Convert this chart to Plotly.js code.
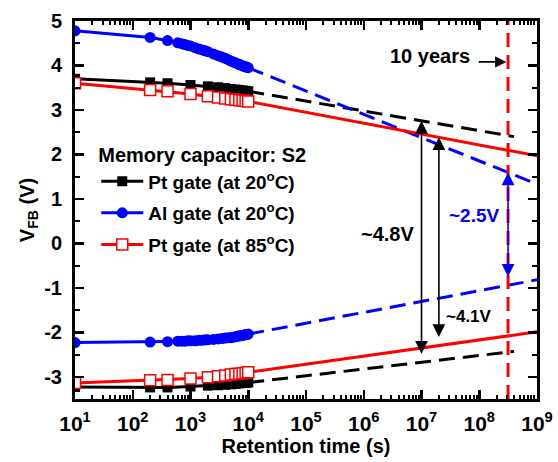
<!DOCTYPE html>
<html><head><meta charset="utf-8">
<script src="https://cdn.plot.ly/plotly-3.0.1.min.js"></script>
<style>html,body{margin:0;padding:0;background:#fff}#chart{width:558px;height:462px}</style>
</head><body><div id="chart"></div>
<script>
// ---- data ----
const ptTimes = [10, 200, 400, 1000, 2000, 3000, 4000, 5000, 6000, 7000, 8000, 9000, 10000];
const pt20Upper = [3.70, 3.62, 3.60, 3.56, 3.53, 3.51, 3.49, 3.47, 3.46, 3.45, 3.44, 3.43, 3.42];
const pt20Lower = [-3.23, -3.24, -3.24, -3.22, -3.20, -3.19, -3.18, -3.17, -3.16, -3.15, -3.14, -3.14, -3.13];
const pt85Upper = [3.60, 3.45, 3.42, 3.36, 3.31, 3.28, 3.26, 3.24, 3.23, 3.22, 3.21, 3.20, 3.19];
const pt85Lower = [-3.14, -3.08, -3.07, -3.04, -3.01, -2.99, -2.97, -2.95, -2.94, -2.93, -2.92, -2.91, -2.90];
const alTimes = [10, 200, 400, 600, 700, 800, 900, 1000, 1200, 1400, 1600, 1800, 2000, 2500, 3000, 3500, 4000, 4500, 5000, 5500, 6000, 6500, 7000, 7500, 8000, 8500, 9000, 9500, 10000];
const al20Upper = [4.78, 4.63, 4.56, 4.51, 4.49, 4.47, 4.45, 4.44, 4.40, 4.37, 4.35, 4.33, 4.31, 4.26, 4.22, 4.19, 4.16, 4.13, 4.10, 4.08, 4.06, 4.04, 4.02, 4.01, 3.99, 3.98, 3.97, 3.96, 3.95];
const al20Lower = [-2.23, -2.22, -2.21, -2.20, -2.20, -2.20, -2.19, -2.19, -2.19, -2.18, -2.18, -2.17, -2.17, -2.16, -2.15, -2.14, -2.13, -2.12, -2.12, -2.11, -2.10, -2.09, -2.08, -2.08, -2.07, -2.06, -2.05, -2.05, -2.04];
// extrapolations
const ptExtTimes = [1e4, 4e8];
const pt20UpperExt = [3.42, 2.40];
const pt20LowerExt = [-3.13, -2.43];
const extTimes = [1e4, 1e9];
const al20UpperExt = [3.95, 1.33];
const al20LowerExt = [-2.04, -0.82];
const pt85UpperExt = [3.19, 1.97];
const pt85LowerExt = [-2.90, -1.99];
const tenYears = 3.1536e8;
const tenYearsY = [-3.5, 5];
// ticks
const xTickVals = [1e1, 1e2, 1e3, 1e4, 1e5, 1e6, 1e7, 1e8, 1e9];
const xTickText = ['10<sup>1</sup>','10<sup>2</sup>','10<sup>3</sup>','10<sup>4</sup>','10<sup>5</sup>','10<sup>6</sup>','10<sup>7</sup>','10<sup>8</sup>','10<sup>9</sup>'];
const yTickVals = [-3, -2, -1, 0, 1, 2, 3, 4, 5];
const yTickText = ['-3', '-2', '-1', '0', '1', '2', '3', '4', '5'];
const legendNames = ['<b>Pt gate (at 20<sup>o</sup>C)</b>', '<b>Al gate (at 20<sup>o</sup>C)</b>', '<b>Pt gate (at 85<sup>o</sup>C)</b>'];

// ---- helpers ----
const FONT = 'Liberation Sans, Arial, Helvetica, sans-serif';
function at(xs, ys, t) { // linear interpolation in log10(x)
  const a = Math.log10(xs[0]), b = Math.log10(xs[1]), u = (Math.log10(t) - a) / (b - a);
  return ys[0] + u * (ys[1] - ys[0]);
}
const minorX = [];
for (let d = 1; d < 9; d++) for (let k = 2; k <= 9; k++) minorX.push(k * Math.pow(10, d));

const BLACK = '#000000', BLUE = '#0000ff', RED = '#ff0000';
const traces = [];
function ext(x, y, color, dash) {
  traces.push({x: x, y: y, mode: 'lines', line: {color: color, width: 3, dash: dash}, showlegend: false, hoverinfo: 'skip'});
}
ext(ptExtTimes, pt20UpperExt, BLACK, '16px,8px');
ext(ptExtTimes, pt20LowerExt, BLACK, '16px,8px');
ext(extTimes, al20UpperExt, BLUE, '16px,8px');
ext(extTimes, al20LowerExt, BLUE, '16px,8px');
ext(extTimes, pt85UpperExt, RED, 'solid');
ext(extTimes, pt85LowerExt, RED, 'solid');

function data(x, y, name, color, marker, show, grp) {
  traces.push({x: x, y: y, name: name, mode: 'lines+markers', legendgroup: grp, showlegend: show,
    line: {color: color, width: 3}, marker: marker, hoverinfo: 'skip'});
}
const mBlack = {symbol: 'square', size: 10, color: BLACK};
const mBlue = {symbol: 'circle', size: 11, color: BLUE};
const mRed = {symbol: 'square', size: 11, color: '#ffffff', line: {color: RED, width: 1.5}};
data(ptTimes, pt20Upper, legendNames[0], BLACK, mBlack, true, 'a');
data(ptTimes, pt20Lower, legendNames[0], BLACK, mBlack, false, 'a');
data(alTimes, al20Upper, legendNames[1], BLUE, mBlue, true, 'b');
data(alTimes, al20Lower, legendNames[1], BLUE, mBlue, false, 'b');
data(ptTimes, pt85Upper, legendNames[2], RED, mRed, true, 'c');
data(ptTimes, pt85Lower, legendNames[2], RED, mRed, false, 'c');

traces.push({x: [tenYears, tenYears], y: tenYearsY, mode: 'lines', line: {color: RED, width: 3, dash: '14px,8px'}, showlegend: false, hoverinfo: 'skip'});

// arrows
function dbl(t, top, bot, color) {
  const lx = Math.log10(t);
  return {x: lx, y: top, ax: lx, ay: bot, xref: 'x', yref: 'y', axref: 'x', ayref: 'y',
    showarrow: true, arrowhead: 2, startarrowhead: 2, arrowside: 'end+start', arrowsize: 1.6, startarrowsize: 1.6,
    arrowwidth: 1.6, arrowcolor: color, text: ' ', standoff: 0, startstandoff: 0};
}
const tA = 1e7, tB = 2e7;
const annotations = [
  dbl(tA, at(ptExtTimes, pt20UpperExt, tA), at(ptExtTimes, pt20LowerExt, tA), BLACK),
  dbl(tB, at(extTimes, pt85UpperExt, tB), at(extTimes, pt85LowerExt, tB), BLACK),
  dbl(tenYears, at(extTimes, al20UpperExt, tenYears), at(extTimes, al20LowerExt, tenYears), BLUE),
  {x: 6.41, y: 0.21, xref: 'x', yref: 'y', text: '<b>~4.8V</b>', showarrow: false, font: {size: 20, color: BLACK, family: FONT}},
  {x: 7.83, y: -1.65, xref: 'x', yref: 'y', text: '<b>~4.1V</b>', showarrow: false, font: {size: 17, color: BLACK, family: FONT}},
  {x: 7.92, y: 0.63, xref: 'x', yref: 'y', text: '<b>~2.5V</b>', showarrow: false, font: {size: 19, color: BLUE, family: FONT}},
  {x: 7.14, y: 4.22, xref: 'x', yref: 'y', text: '<b>10 years</b>', showarrow: false, font: {size: 20, color: BLACK, family: FONT}},
  {x: Math.log10(tenYears) - 0.03, y: 4.08, ax: 7.94, ay: 4.08, xref: 'x', yref: 'y', axref: 'x', ayref: 'y',
    showarrow: true, arrowhead: 2, arrowsize: 1.4, arrowwidth: 1.6, arrowcolor: BLACK, text: ' ', standoff: 0}
];

const axisCommon = {showline: true, linewidth: 3, linecolor: BLACK, mirror: 'allticks', showgrid: false, zeroline: false,
  ticks: 'inside', ticklen: 9, tickwidth: 2.5, tickcolor: BLACK, tickfont: {size: 20, color: BLACK, family: FONT, weight: 'bold'}};

const layout = {
  width: 558, height: 462, margin: {l: 75, r: 21, t: 21, b: 63},
  paper_bgcolor: '#ffffff', plot_bgcolor: '#ffffff', font: {family: FONT, color: BLACK},
  showlegend: true,
  xaxis: Object.assign({}, axisCommon, {type: 'log', range: [1, 9], tickmode: 'array', tickvals: xTickVals, ticktext: xTickText,
    tickfont: {size: 21, color: BLACK, family: FONT, weight: 'bold'}, ticklabelstandoff: 4,
    minor: {ticks: 'inside', ticklen: 4, tickwidth: 2, tickcolor: BLACK, tickmode: 'array', tickvals: minorX, showgrid: false},
    title: {text: '<b>Retention time (s)</b>', font: {size: 20, color: BLACK, family: FONT}, standoff: 2}}),
  yaxis: Object.assign({}, axisCommon, {range: [-3.5, 5], tickmode: 'array', tickvals: yTickVals, ticktext: yTickText, ticklabelstandoff: 6,
    minor: {ticks: 'inside', ticklen: 5, tickwidth: 2, tickcolor: BLACK, tickmode: 'linear', tick0: 0.5, dtick: 1, showgrid: false},
    title: {text: '<b>V<sub>FB</sub> (V)</b>', font: {size: 20, color: BLACK, family: FONT}, standoff: 5}}),
  legend: {x: 0.046, y: 0.695, xanchor: 'left', yanchor: 'top', bgcolor: 'rgba(0,0,0,0)', borderwidth: 0,
    font: {size: 19, color: BLACK, family: FONT}, itemwidth: 42, tracegroupgap: 4,
    title: {text: '<b>Memory capacitor: S2</b>', font: {size: 20, color: BLACK, family: FONT}}},
  annotations: annotations
};
Plotly.newPlot('chart', traces, layout, {staticPlot: true, displayModeBar: false});
</script></body></html>
